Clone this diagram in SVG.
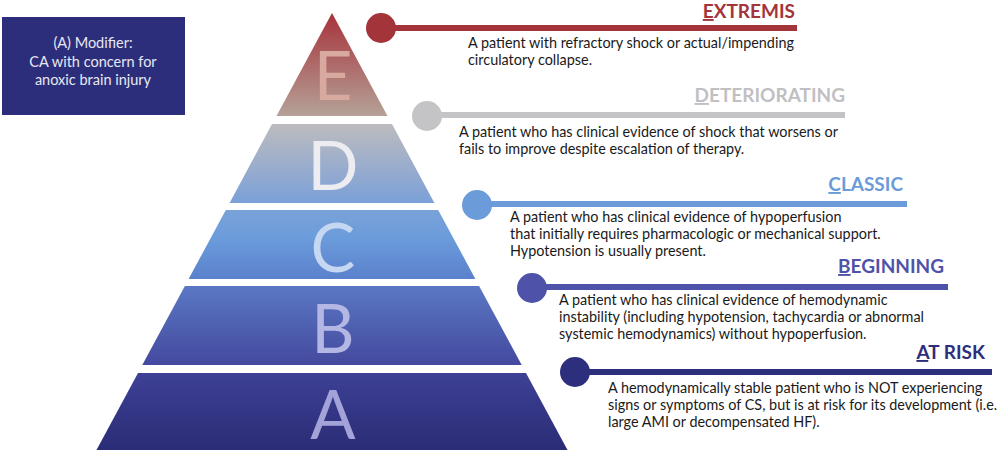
<svg xmlns="http://www.w3.org/2000/svg" width="1000" height="452" viewBox="0 0 1000 452">
<defs>
<linearGradient id="gE" x1="0" y1="0" x2="0" y2="1"><stop offset="0" stop-color="#a6323a"/><stop offset="1" stop-color="#b5a298"/></linearGradient>
<linearGradient id="gD" x1="0" y1="0" x2="0" y2="1"><stop offset="0" stop-color="#bdbcbf"/><stop offset="1" stop-color="#7ba0d8"/></linearGradient>
<linearGradient id="gC" x1="0" y1="0" x2="0" y2="1"><stop offset="0" stop-color="#7aa2d8"/><stop offset="0.4" stop-color="#6b9cdb"/><stop offset="1" stop-color="#5b80cc"/></linearGradient>
<linearGradient id="gB" x1="0" y1="0" x2="0" y2="1"><stop offset="0" stop-color="#5a78c4"/><stop offset="1" stop-color="#44499e"/></linearGradient>
<linearGradient id="gA" x1="0" y1="0" x2="0" y2="1"><stop offset="0" stop-color="#3d4195"/><stop offset="1" stop-color="#2b2c76"/></linearGradient>
</defs>
<style>
.letter{font-family:Lato,"Liberation Sans",sans-serif;font-size:67px;text-anchor:middle}
.head{font-family:Lato,"Liberation Sans",sans-serif;font-size:19px;font-weight:bold;text-anchor:end}
.desc{font-family:Lato,"Liberation Sans",sans-serif;font-size:14.4px;fill:#1a1a1a}
.u{text-decoration:underline}
.mod{font-family:Lato,"Liberation Sans",sans-serif;font-size:14.5px;fill:#e8e8f2;text-anchor:middle}
</style>
<rect width="1000" height="452" fill="#ffffff"/>
<g id="modifier">
<rect x="2" y="17" width="183" height="98" fill="#2c2e7b"/>
<text class="mod" x="93" y="48">(A) Modifier:</text>
<text class="mod" x="93" y="67">CA with concern for</text>
<text class="mod" x="93" y="85">anoxic brain injury</text>
</g>
<g id="tier-E">
<polygon points="332,13 387.5,116 276.5,116" fill="url(#gE)"/>
<text class="letter" x="333" y="100" fill="#d8aa9f">E</text>
</g>
<g id="tier-D">
<polygon points="272,124 392,124 434.4,203 229.6,203" fill="url(#gD)"/>
<text class="letter" x="333" y="190" fill="#ececf1">D</text>
</g>
<g id="tier-C">
<polygon points="225.8,210 438.2,210 475.4,279 188.6,279" fill="url(#gC)"/>
<text class="letter" x="333" y="272" fill="#c6d7f1">C</text>
</g>
<g id="tier-B">
<polygon points="184.9,286 479.1,286 521.7,365 142.3,365" fill="url(#gB)"/>
<text class="letter" x="333" y="353" fill="#b4b7e4">B</text>
</g>
<g id="tier-A">
<polygon points="138,373 526,373 567.5,450 96.5,450" fill="url(#gA)"/>
<text class="letter" x="333" y="439" fill="#a3a2d9">A</text>
</g>
<g id="connectors">
<line x1="381" y1="28" x2="797" y2="28" stroke="#a3353a" stroke-width="6"/>
<circle cx="381" cy="28" r="15" fill="#a3353a"/>
<line x1="427" y1="115" x2="845" y2="115" stroke="#c4c4c6" stroke-width="6"/>
<circle cx="427" cy="116" r="15" fill="#c4c4c6"/>
<line x1="477" y1="204" x2="907" y2="204" stroke="#6b9bd8" stroke-width="6"/>
<circle cx="477" cy="205" r="15" fill="#6b9bd8"/>
<line x1="532" y1="287" x2="948" y2="287" stroke="#4e52a8" stroke-width="6"/>
<circle cx="532" cy="288" r="15" fill="#4e52a8"/>
<line x1="575" y1="372" x2="992" y2="372" stroke="#2e2f7c" stroke-width="6"/>
<circle cx="575" cy="372" r="15" fill="#2e2f7c"/>
</g>
<g id="label-E">
<text class="head" x="795" y="18" fill="#a3353a"><tspan class="u">E</tspan>XTREMIS</text>
<text class="desc" x="468" y="48">A patient with refractory shock or actual/impending</text>
<text class="desc" x="468" y="65">circulatory collapse.</text>
</g>
<g id="label-D">
<text class="head" x="845" y="102" fill="#c0c0c2"><tspan class="u">D</tspan>ETERIORATING</text>
<text class="desc" x="459" y="137">A patient who has clinical evidence of shock that worsens or</text>
<text class="desc" x="459" y="154">fails to improve despite escalation of therapy.</text>
</g>
<g id="label-C">
<text class="head" x="903" y="191" fill="#6b9bd8"><tspan class="u">C</tspan>LASSIC</text>
<text class="desc" x="510" y="222">A patient who has clinical evidence of hypoperfusion</text>
<text class="desc" x="510" y="239">that initially requires pharmacologic or mechanical support.</text>
<text class="desc" x="510" y="256">Hypotension is usually present.</text>
</g>
<g id="label-B">
<text class="head" x="944" y="273" fill="#4e52a8"><tspan class="u">B</tspan>EGINNING</text>
<text class="desc" x="559" y="305">A patient who has clinical evidence of hemodynamic</text>
<text class="desc" x="559" y="322">instability (including hypotension, tachycardia or abnormal</text>
<text class="desc" x="559" y="339">systemic hemodynamics) without hypoperfusion.</text>
</g>
<g id="label-A">
<text class="head" x="985" y="359" fill="#2e2f7c"><tspan class="u">A</tspan>T RISK</text>
<text class="desc" x="608" y="393">A hemodynamically stable patient who is NOT experiencing</text>
<text class="desc" x="608" y="410">signs or symptoms of CS, but is at risk for its development (i.e.</text>
<text class="desc" x="608" y="427">large AMI or decompensated HF).</text>
</g>
</svg>
